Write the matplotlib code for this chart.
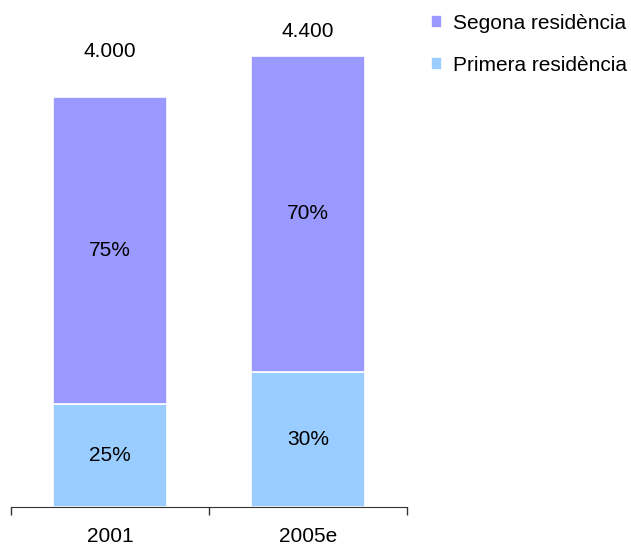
import matplotlib
matplotlib.use("Agg")
import matplotlib.pyplot as plt
import numpy as np

plt.rcParams['font.family'] = ['Liberation Sans', 'DejaVu Sans']

# data
years = ['2001', '2005e']
totals = [4000, 4400]
primera_pct = [25, 30]
segona_pct = [75, 70]
total_labels = ['4.000', '4.400']


def main():
    x = np.arange(len(years))
    primera = [t * p / 100 for t, p in zip(totals, primera_pct)]
    segona = [t * p / 100 for t, p in zip(totals, segona_pct)]

    fig = plt.figure(figsize=(6.31, 5.46), dpi=100)
    ax = fig.add_axes([11 / 631, 39 / 546, 396 / 631, 487 / 546])

    b1 = ax.bar(x, primera, width=0.58, color='#99CCFF', edgecolor='white',
                linewidth=1.2, label='Primera residència')
    b2 = ax.bar(x, segona, width=0.58, bottom=primera, color='#9999FF',
                edgecolor='white', linewidth=1.2, label='Segona residència')

    # percentages inside the segments
    for i in range(len(years)):
        ax.text(x[i], primera[i] / 2, f'{primera_pct[i]}%', ha='center',
                va='center', fontsize=15)
        ax.text(x[i], primera[i] + segona[i] / 2, f'{segona_pct[i]}%',
                ha='center', va='center', fontsize=15)

    # totals above the bars
    label_offsets = [440, 235]
    for i in range(len(years)):
        ax.text(x[i], totals[i] + label_offsets[i], total_labels[i],
                ha='center', va='center', fontsize=15)

    ax.set_xlim(-0.5, 1.5)
    ax.set_ylim(0, 4750)
    ax.set_xticks([-0.5, 0.5, 1.5])
    ax.set_xticklabels([])
    ax.set_xticks(x, minor=True)
    ax.set_xticklabels(years, minor=True, fontsize=15)
    ax.tick_params(axis='x', which='major', direction='out', length=6,
                   width=1, color='#333333')
    ax.tick_params(axis='x', which='minor', length=0, pad=14.5)
    ax.set_yticks([])
    for side in ['top', 'right', 'left']:
        ax.spines[side].set_visible(False)
    ax.spines['bottom'].set_color('#333333')

    fig.legend(handles=[b2, b1], loc='upper left',
               bbox_to_anchor=(431 / 631, 1 - 14 / 546), frameon=False,
               fontsize=15, handlelength=0.55, handleheight=0.55,
               handletextpad=0.5, labelspacing=1.1, borderpad=0,
               borderaxespad=0)

    fig.savefig('out.png', dpi=100)


if __name__ == '__main__':
    main()
